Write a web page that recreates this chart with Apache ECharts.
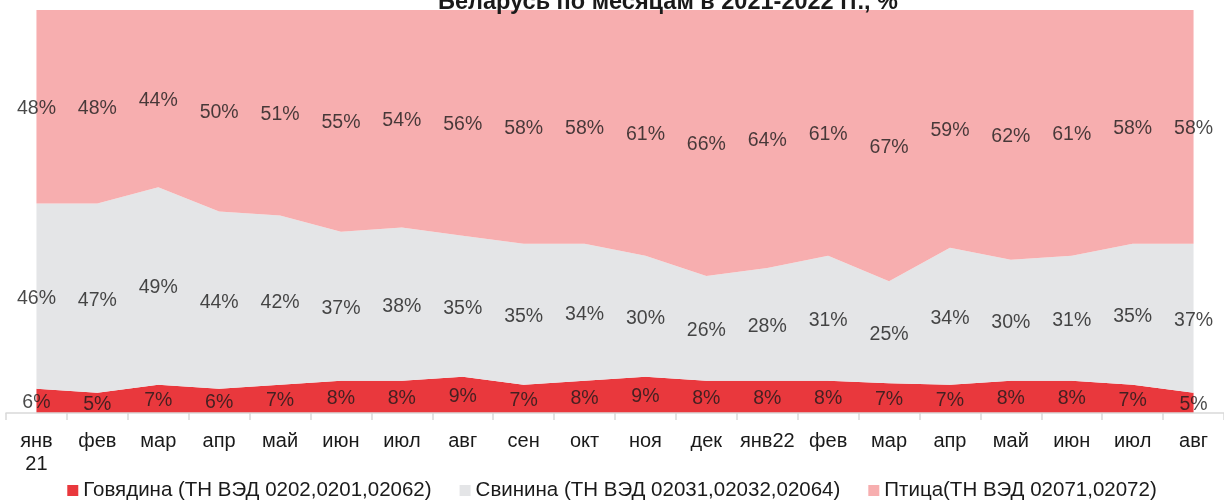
<!DOCTYPE html>
<html>
<head>
<meta charset="utf-8">
<script src="https://cdn.jsdelivr.net/npm/echarts@6/dist/echarts.min.js"></script>
<style>
  html, body { margin: 0; padding: 0; background: #fff; }
  #chart { width: 1224px; height: 501px; }
</style>
</head>
<body>
<div id="chart"></div>
<script>
  const months = ['янв\n21', 'фев', 'мар', 'апр', 'май', 'июн', 'июл', 'авг', 'сен', 'окт', 'ноя', 'дек',
    'янв22', 'фев', 'мар', 'апр', 'май', 'июн', 'июл', 'авг']
  const beef = [6, 5, 7, 6, 7, 8, 8, 9, 7, 8, 9, 8, 8, 8, 7.4, 7, 8, 8, 7, 5]
  const pork = [46, 47, 49, 44, 42, 37, 38, 35, 35, 34, 30, 26, 28, 31, 25.3, 34, 30, 31, 35, 37]
  const poultry = [48, 48, 44, 50, 51, 55, 54, 56, 58, 58, 61, 66, 64, 61, 67.3, 59, 62, 61, 58, 58]

  const names = ['Говядина (ТН ВЭД 0202,0201,02062)', 'Свинина (ТН ВЭД 02031,02032,02064)', 'Птица(ТН ВЭД 02071,02072)']
  const colors = ['#e9383d', '#e4e5e7', '#f7aeaf']
  const font = "'Liberation Sans', Arial, sans-serif"

  // label points sit in the middle of each band
  const midPoints = (vals, below) => vals.map((v, i) => [i, (below ? below[i] : 0) + v / 2, v])
  const beefTop = beef.map((v) => v)
  const porkTop = pork.map((v, i) => v + beef[i])

  const areaSeries = (name, data, color) => ({
    name: name,
    type: 'line',
    stack: 'total',
    data: data,
    showSymbol: false,
    symbol: 'none',
    lineStyle: { width: 0 },
    areaStyle: { color: color, opacity: 1 },
    itemStyle: { color: color },
    emphasis: { disabled: true },
    z: 2,
  })

  const labelSeries = (data) => ({
    type: 'scatter',
    data: data,
    symbolSize: 1,
    itemStyle: { color: 'rgba(0,0,0,0)' },
    silent: true,
    z: 5,
    label: {
      show: true,
      position: 'inside',
      offset: [0, 2],
      formatter: (p) => Math.round(p.value[2]) + '%',
      fontSize: 19.5,
      fontFamily: font,
      color: '#1a1a1a',
    },
  })

  const options = {
    animation: false,
    title: {
      text: 'Беларусь по месяцам в 2021-2022 гг., %',
      left: 663,
      textAlign: 'center',
      top: -14,
      textStyle: { fontSize: 23.5, fontWeight: 'bold', fontFamily: font, color: '#1a1a1a' },
    },
    legend: {
      data: names,
      top: 475,
      left: 'center',
      icon: 'rect',
      itemWidth: 11,
      itemHeight: 11,
      itemGap: 28,
      textStyle: { fontSize: 20.5, fontFamily: font, color: '#1a1a1a' },
    },
    grid: { left: 6, right: -5, top: 10, bottom: 88 },
    xAxis: {
      type: 'category',
      data: months,
      boundaryGap: true,
      axisLine: { lineStyle: { color: '#d9d9d9', width: 1.5 } },
      axisTick: { show: true, length: 7, lineStyle: { color: '#d9d9d9', width: 1.5 } },
      axisLabel: {
        interval: 0,
        fontSize: 20,
        fontFamily: font,
        color: '#1a1a1a',
        margin: 17,
        lineHeight: 23,
      },
      z: 6,
    },
    yAxis: { type: 'value', min: 0, max: 100, show: false, splitLine: { show: false } },
    series: [
      areaSeries(names[0], beef, colors[0]),
      areaSeries(names[1], pork, colors[1]),
      areaSeries(names[2], poultry, colors[2]),
      labelSeries(midPoints(beef)),
      labelSeries(midPoints(pork, beefTop)),
      labelSeries(midPoints(poultry, porkTop)),
    ],
  }

  const chart = echarts.init(document.getElementById('chart'))
  chart.setOption(options)
  window.addEventListener('resize', function () {
    chart && chart.resize()
  })
</script>
</body>
</html>
